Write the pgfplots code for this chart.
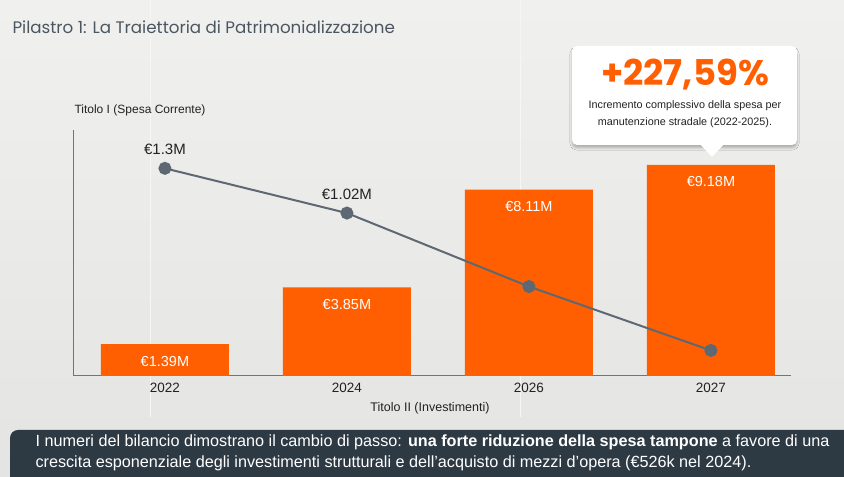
\documentclass[border=0pt]{standalone}
\usepackage{fontspec}
\setmainfont{Liberation Sans}
\newfontfamily\titlefont{Poppins}
\usepackage{pgfplots}
\pgfplotsset{compat=1.18}
\usetikzlibrary{shadows.blur}
\definecolor{bgtop}{HTML}{F0F0EF}
\definecolor{bgbot}{HTML}{E4E4E3}
\definecolor{barorange}{HTML}{FF5F00}
\definecolor{linegray}{HTML}{5D6872}
\definecolor{axisgray}{HTML}{6E767C}
\definecolor{titlegray}{HTML}{4B5660}
\definecolor{banner}{HTML}{2D3A44}
\definecolor{txt}{HTML}{222222}

\begin{document}
\begin{tikzpicture}[x=1bp, y=1bp]
\useasboundingbox (0,0) rectangle (844,477);
% background
\shade[top color=bgtop, bottom color=bgbot] (0,0) rectangle (844,477);
\draw[white!40!bgtop, line width=1bp] (150,60) -- (150,477);
\draw[white!40!bgtop, line width=1bp] (520,60) -- (520,477);

% title
\node[anchor=west, text=titlegray, font=\titlefont\fontsize{16.7bp}{18bp}\selectfont] at (9,450) {Pilastro 1: La Traiettoria di Patrimonializzazione};

% axis titles
\node[anchor=west, text=txt, font=\fontsize{12bp}{14bp}\selectfont] at (71,367) {Titolo I (Spesa Corrente)};
\node[text=txt, font=\fontsize{12.5bp}{14bp}\selectfont] at (430,69) {Titolo II (Investimenti)};

% bars (Titolo II)
\begin{axis}[at={(73bp,101bp)}, anchor=south west, scale only axis,
  width=718bp, height=246bp,
  xmin=-0.505, xmax=3.44, ymin=0, ymax=10.7,
  ybar, bar width=128bp,
  axis x line=bottom, axis y line=left,
  axis line style={-, draw=axisgray, line width=1bp},
  ytick=\empty, xtick={0,1,2,3}, xticklabels={2022,2024,2026,2027},
  major tick length=0pt,
  xticklabel style={font=\fontsize{13.5bp}{15bp}\selectfont, text=txt, yshift=-4bp},
  /pgf/number format/assume math mode=true,
  nodes near coords={€\pgfmathprintnumber[fixed,precision=2]{\pgfplotspointmeta}M},
  nodes near coords style={anchor=center, text=white, yshift=-17bp,
    font=\fontsize{14.5bp}{16bp}\selectfont}]
  \addplot[fill=barorange, draw=none] coordinates {(0,1.39) (1,3.85) (2,8.11) (3,9.18)};
\end{axis}

% line (Titolo I)
\begin{axis}[at={(73bp,101bp)}, anchor=south west, scale only axis,
  width=718bp, height=246bp,
  xmin=-0.505, xmax=3.44, ymin=0, ymax=1.54,
  hide axis, clip=false,
  /pgf/number format/assume math mode=true]
  \addplot[linegray, line width=2bp, mark=*, mark size=5.5bp,
    mark options={fill=linegray, draw=linegray}] coordinates {(0,1.3) (1,1.02) (2,0.56) (3,0.16)};
  \addplot[draw=none, mark=none,
    nodes near coords={€\pgfmathprintnumber{\pgfplotspointmeta}M},
    nodes near coords style={anchor=center, yshift=19bp, text=txt,
      font=\fontsize{15bp}{17bp}\selectfont}] coordinates {(0,1.3) (1,1.02)};
\end{axis}

% callout
\fill[white, rounded corners=5bp, blur shadow={shadow xshift=0bp, shadow yshift=-3bp, shadow opacity=25, shadow blur steps=8}] (572,332) rectangle (797,431);
\fill[white] (699,334) -- (725,334) -- (712,320) -- cycle;
\node[text=barorange, font=\titlefont\bfseries\fontsize{35.5bp}{37bp}\selectfont] at (685,402) {+227,59\%};
\node[text=txt, font=\fontsize{10.8bp}{13bp}\selectfont] at (685,371) {Incremento complessivo della spesa per};
\node[text=txt, font=\fontsize{10.8bp}{13bp}\selectfont] at (685,354) {manutenzione stradale (2022-2025).};

% banner
\begin{scope}
\clip (0,0) rectangle (844,477);
\fill[banner, rounded corners=8bp] (10,-10) rectangle (860,47);
\end{scope}
\node[anchor=west, text=white, font=\fontsize{16.2bp}{18bp}\selectfont] at (32,35) {I numeri del bilancio dimostrano il cambio di passo: \textbf{una forte riduzione della spesa tampone} a favore di una};
\node[anchor=west, text=white, font=\fontsize{16.2bp}{18bp}\selectfont] at (32,14) {crescita esponenziale degli investimenti strutturali e dell’acquisto di mezzi d’opera (€526k nel 2024).};
\end{tikzpicture}
\end{document}
